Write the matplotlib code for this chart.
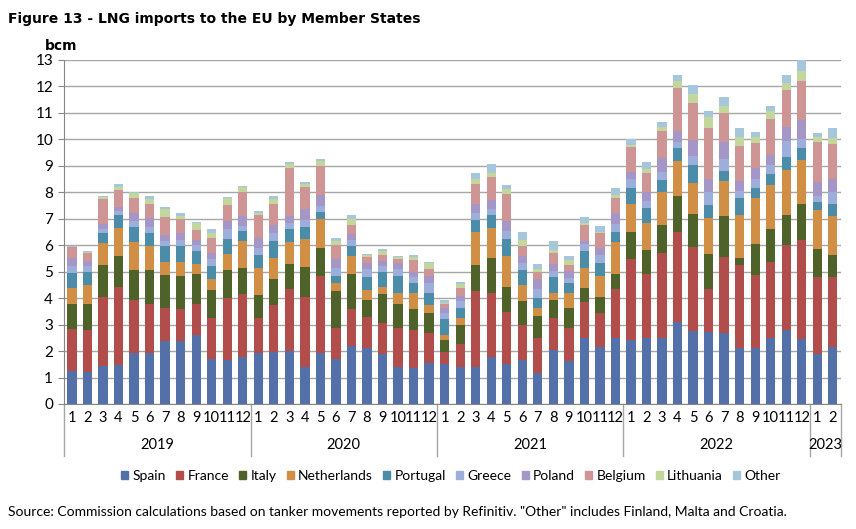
import numpy as np
import matplotlib.pyplot as plt
from matplotlib.patches import Patch

# monthly LNG imports, bcm
years = ['2019', '2020', '2021', '2022', '2023']
months_per_year = [12, 12, 12, 12, 2]

spain = [1.25, 1.2, 1.42, 1.49, 1.93, 1.94, 2.39, 2.37, 2.62, 1.7, 1.65, 1.78,
         1.91, 1.95, 2.02, 1.39, 1.93, 1.69, 2.2, 2.12, 1.88, 1.4, 1.37, 1.56,
         1.5, 1.41, 1.4, 1.79, 1.5, 1.66, 1.18, 2.03, 1.61, 2.51, 2.17, 2.51,
         2.42, 2.48, 2.48, 3.08, 2.74, 2.71, 2.7, 2.13, 2.13, 2.48, 2.79, 2.47,
         1.9, 2.17]
france = [1.58, 1.58, 2.62, 2.93, 1.99, 1.85, 1.24, 1.23, 1.17, 1.55, 2.34, 2.36,
          1.34, 1.79, 2.31, 2.65, 2.89, 1.18, 1.39, 1.18, 1.19, 1.46, 1.41, 1.14,
          0.46, 0.87, 2.87, 2.42, 1.98, 1.32, 1.3, 1.21, 1.25, 1.34, 1.27, 1.82,
          3.07, 2.43, 3.22, 3.43, 3.2, 1.64, 2.87, 3.13, 2.76, 2.89, 3.21, 3.73,
          2.89, 2.62]
italy = [0.94, 1.01, 1.21, 1.17, 1.14, 1.27, 1.24, 1.24, 1.12, 1.07, 1.07, 1.01,
         0.88, 1.0, 0.95, 1.15, 1.07, 1.4, 1.31, 0.63, 1.09, 0.91, 0.8, 0.73,
         0.46, 0.69, 0.97, 1.31, 0.94, 0.91, 0.84, 0.68, 0.78, 0.52, 0.6, 0.59,
         1.02, 0.9, 1.07, 1.36, 1.24, 1.31, 1.52, 0.26, 1.15, 1.24, 1.14, 1.37,
         1.07, 0.85]
netherlands = [0.61, 0.72, 0.83, 1.06, 1.05, 0.91, 0.48, 0.53, 0.37, 0.4, 0.62, 1.01,
               1.0, 0.78, 0.84, 1.03, 1.11, 0.29, 0.68, 0.39, 0.27, 0.44, 0.63, 0.32,
               0.19, 0.29, 1.26, 1.14, 1.17, 0.61, 0.29, 0.29, 0.57, 0.78, 0.8, 1.19,
               1.03, 1.02, 1.23, 1.32, 1.18, 1.35, 1.32, 1.62, 1.74, 1.66, 1.72, 1.65,
               1.49, 1.47]
portugal = [0.57, 0.48, 0.37, 0.49, 0.57, 0.48, 0.62, 0.6, 0.49, 0.49, 0.54, 0.38,
            0.51, 0.64, 0.48, 0.46, 0.27, 0.26, 0.39, 0.48, 0.56, 0.63, 0.35, 0.46,
            0.59, 0.38, 0.45, 0.48, 0.66, 0.56, 0.38, 0.59, 0.37, 0.63, 0.49, 0.39,
            0.64, 0.57, 0.47, 0.48, 0.68, 0.52, 0.4, 0.64, 0.4, 0.42, 0.48, 0.45,
            0.29, 0.44]
greece = [0.25, 0.21, 0.15, 0.15, 0.23, 0.25, 0.19, 0.23, 0.23, 0.26, 0.4, 0.19,
          0.27, 0.31, 0.23, 0.27, 0.21, 0.33, 0.23, 0.29, 0.22, 0.25, 0.24, 0.37,
          0.25, 0.25, 0.25, 0.22, 0.29, 0.28, 0.37, 0.23, 0.19, 0.25, 0.29, 0.29,
          0.34, 0.28, 0.28, 0.22, 0.34, 0.47, 0.45, 0.28, 0.32, 0.34, 0.61, 0.34,
          0.23, 0.45]
poland = [0.3, 0.2, 0.19, 0.17, 0.32, 0.34, 0.21, 0.25, 0.18, 0.25, 0.29, 0.37,
          0.37, 0.28, 0.27, 0.43, 0.4, 0.32, 0.21, 0.25, 0.19, 0.22, 0.2, 0.26,
          0.19, 0.19, 0.34, 0.35, 0.37, 0.25, 0.38, 0.25, 0.26, 0.13, 0.29, 0.44,
          0.23, 0.34, 0.54, 0.41, 0.59, 0.5, 0.63, 0.38, 0.4, 0.38, 0.53, 0.73,
          0.53, 0.52]
belgium = [0.43, 0.29, 0.97, 0.61, 0.54, 0.53, 0.7, 0.53, 0.38, 0.56, 0.61, 0.91,
           0.85, 0.82, 1.8, 0.82, 1.11, 0.53, 0.34, 0.21, 0.24, 0.16, 0.44, 0.27,
           0.13, 0.32, 0.76, 0.88, 1.01, 0.38, 0.25, 0.44, 0.22, 0.59, 0.56, 0.57,
           0.97, 0.71, 1.01, 1.64, 1.42, 1.92, 1.09, 1.3, 0.95, 1.36, 1.4, 1.45,
           1.5, 1.3]
lithuania = [0.02, 0.04, 0.07, 0.13, 0.21, 0.16, 0.29, 0.12, 0.29, 0.19, 0.25, 0.19,
             0.1, 0.16, 0.16, 0.1, 0.19, 0.16, 0.25, 0.07, 0.13, 0.1, 0.12, 0.23,
             0.06, 0.12, 0.21, 0.13, 0.19, 0.23, 0.1, 0.1, 0.18, 0.1, 0.03, 0.1,
             0.08, 0.14, 0.18, 0.28, 0.33, 0.41, 0.27, 0.34, 0.25, 0.29, 0.26, 0.38,
             0.2, 0.22]
other = [0.03, 0.05, 0.03, 0.1, 0.03, 0.13, 0.1, 0.1, 0.03, 0.13, 0.05, 0.04,
         0.05, 0.12, 0.1, 0.1, 0.06, 0.12, 0.15, 0.06, 0.1, 0.04, 0.08, 0.02,
         0.09, 0.09, 0.23, 0.34, 0.15, 0.31, 0.21, 0.34, 0.16, 0.22, 0.23, 0.27,
         0.2, 0.26, 0.19, 0.23, 0.35, 0.25, 0.36, 0.35, 0.18, 0.2, 0.28, 0.43,
         0.15, 0.39]

series = [('Spain', spain, '#5470A8'),
          ('France', france, '#B14D4B'),
          ('Italy', italy, '#4F6229'),
          ('Netherlands', netherlands, '#D18E45'),
          ('Portugal', portugal, '#4B8CA8'),
          ('Greece', greece, '#9DAEDB'),
          ('Poland', poland, '#A497C7'),
          ('Belgium', belgium, '#CF9494'),
          ('Lithuania', lithuania, '#C3D69B'),
          ('Other', other, '#A6C6DC')]

plt.rcParams['font.family'] = ['Lato', 'DejaVu Sans']

month_labels = [str(m) for n in months_per_year for m in range(1, n + 1)]
x = np.arange(len(month_labels))

fig = plt.figure(figsize=(8.56, 5.29), dpi=100)
ax = fig.add_axes([0.075, 0.2363, 0.907, 0.6503])

bottom = np.zeros(len(x))
for name, vals, col in series:
    ax.bar(x, vals, bottom=bottom, width=0.6, color=col, label=name, zorder=3)
    bottom += np.array(vals)

ax.set_xlim(-0.5, len(x) - 0.5)
ax.set_ylim(0, 13)
ax.set_yticks(range(0, 14))
ax.grid(axis='y', color='#A6A6A6', linewidth=1, zorder=0)
ax.tick_params(axis='y', length=4, color='#868686', labelsize=11, pad=4)
ax.tick_params(axis='x', length=0, labelsize=10.5, pad=5)
ax.set_xticks(x)
ax.set_xticklabels(month_labels)
for s in ['top', 'right']:
    ax.spines[s].set_visible(False)
for s in ['left', 'bottom']:
    ax.spines[s].set_color('#868686')

# year groups and separators below the axis
trans = ax.get_xaxis_transform()
edges = np.concatenate([[0], np.cumsum(months_per_year)]) - 0.5
for e in edges:
    ax.plot([e, e], [0, -0.15], transform=trans, color='#A6A6A6',
            linewidth=1, clip_on=False)
for i, yr in enumerate(years):
    ax.text((edges[i] + edges[i + 1]) / 2, -0.118, yr, transform=trans,
            ha='center', va='center', fontsize=10.5)

fig.text(0.009, 0.965, 'Figure 13 - LNG imports to the EU by Member States',
         fontsize=10, fontweight='bold', va='center', family='DejaVu Sans')
fig.text(0.052, 0.913, 'bcm', fontsize=10, fontweight='bold', va='center',
         family='DejaVu Sans')

handles = [Patch(color=c) for _, _, c in series]
fig.legend(handles, [n for n, _, _ in series], loc='center', ncol=10,
           bbox_to_anchor=(0.527, 0.1), frameon=False, fontsize=10,
           handlelength=0.5, handleheight=0.5, handletextpad=0.3,
           columnspacing=0.75)

fig.text(0.009, 0.032, 'Source: Commission calculations based on tanker movements '
         'reported by Refinitiv. "Other" includes Finland, Malta and Croatia.',
         fontsize=10, va='center')

fig.savefig('out.png', dpi=100)
